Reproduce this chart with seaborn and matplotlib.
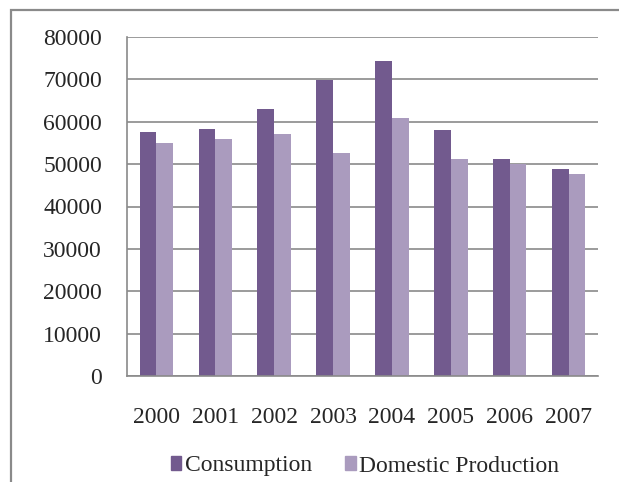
import numpy as np
import pandas as pd
import matplotlib
matplotlib.use("Agg")
import matplotlib.pyplot as plt
from matplotlib.patches import Rectangle
from matplotlib.ticker import FixedLocator
import seaborn as sns

# Data
years = ["2000", "2001", "2002", "2003", "2004", "2005", "2006", "2007"]
consumption = [57500, 58300, 62900, 69800, 74300, 58100, 51200, 48800]
domestic_production = [55100, 56000, 57200, 52600, 61000, 51200, 50100, 47600]
series_names = ["Consumption", "Domestic Production"]

df = pd.DataFrame({
    "Year": years * 2,
    "Value": consumption + domestic_production,
    "Series": [series_names[0]] * len(years) + [series_names[1]] * len(years),
})

sns.set_style("white")
plt.rcParams["font.family"] = ["Liberation Serif", "DejaVu Serif"]

grey = "#8a8a8a"
palette = {"Consumption": "#725a8e", "Domestic Production": "#aa9bbe"}

fig = plt.figure(figsize=(6.19, 4.82), dpi=100)
ax = fig.add_axes([127 / 619, 1 - 376 / 482, (598 - 127) / 619, (376 - 37) / 482])

sns.barplot(data=df, x="Year", y="Value", hue="Series", palette=palette,
            width=0.57, edgecolor="none", saturation=1, ax=ax, legend=False)

ax.set_ylim(0, 80000)
ax.set_xlim(-0.5, len(years) - 0.5)
ax.set_yticks(np.arange(0, 80001, 10000))
ax.yaxis.grid(True, color=grey, lw=1.2)
ax.set_axisbelow(True)
ax.set_xlabel("")
ax.set_ylabel("")

for s in ["top", "right"]:
    ax.spines[s].set_visible(False)
for s in ["left", "bottom"]:
    ax.spines[s].set_color(grey)
    ax.spines[s].set_linewidth(1.2)

ax.tick_params(axis="y", length=6, width=1.2, color=grey, pad=12, labelsize=17)
ax.tick_params(axis="x", which="major", length=0, pad=22, labelsize=17)
ax.xaxis.set_minor_locator(FixedLocator(np.arange(-0.5, len(years), 1.0)))
ax.tick_params(axis="x", which="minor", length=4, width=1.2, color=grey, direction="out")

handles = [Rectangle((0, 0), 1, 1, color=palette[n]) for n in series_names]
fig.legend(handles, series_names, loc="center", bbox_to_anchor=(365 / 619, 1 - 466 / 482),
           ncol=2, frameon=False, fontsize=17, handlelength=0.45, handleheight=0.5,
           handletextpad=0.15, columnspacing=1.4)

# outer chart frame (runs off the right and bottom edges)
fig.patches.append(Rectangle((11 / 619, -0.1), 1.2, 1.1 - 9.5 / 482,
                             transform=fig.transFigure, fill=False, edgecolor=grey,
                             lw=1.6))

# caption above the frame: only its descenders show at the top edge
fig.text(8 / 619, 1 + 4.5 / 482, "Figure 4: Fish Consumption versus Domestic Production (tonnes)",
         fontsize=13, style="italic", va="baseline", ha="left")

fig.savefig("out.png", dpi=100)
